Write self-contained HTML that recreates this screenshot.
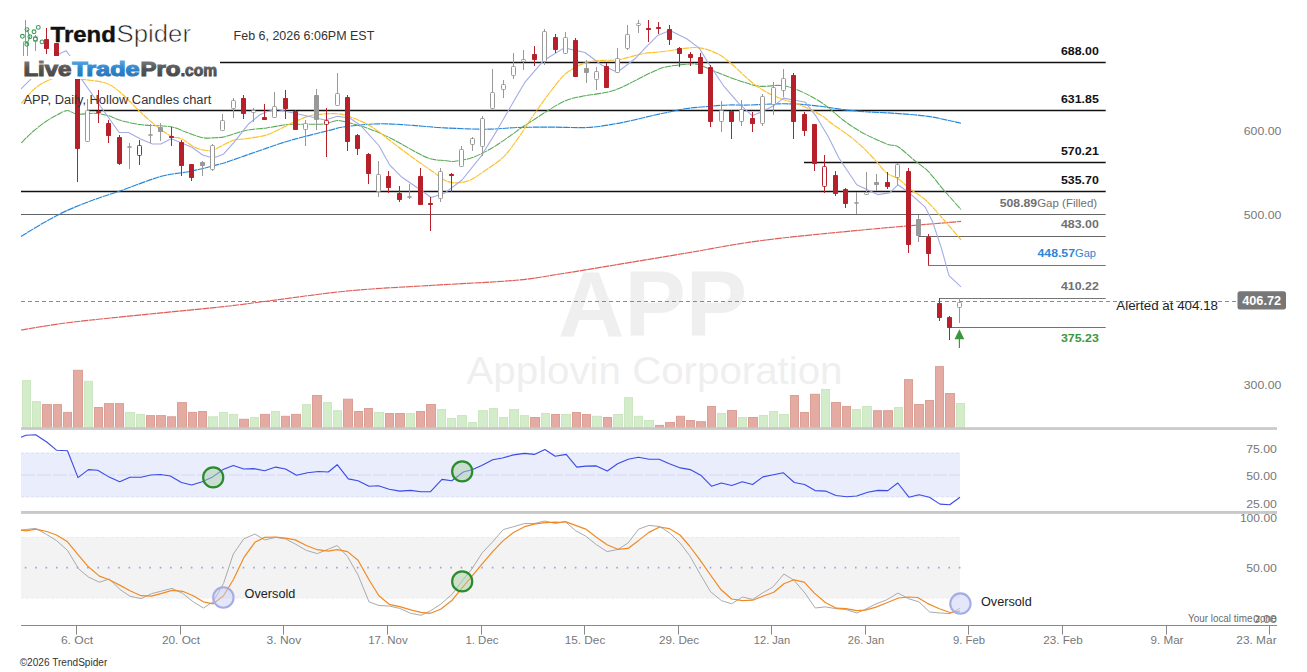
<!DOCTYPE html><html><head><meta charset="utf-8"><style>html,body{margin:0;padding:0;background:#fff;}svg{display:block;font-family:"Liberation Sans",sans-serif;}</style></head><body>
<svg width="1307" height="672" viewBox="0 0 1307 672">
<rect width="1307" height="672" fill="#fff"/>
<text x="652.6" y="336.0" font-size="93.5" fill="#efefef" text-anchor="middle" font-weight="bold" textLength="189.0" lengthAdjust="spacingAndGlyphs" >APP</text>
<text x="654.5" y="383.6" font-size="39.5" fill="#efefef" text-anchor="middle" font-weight="normal" textLength="376.0" lengthAdjust="spacingAndGlyphs" >Applovin Corporation</text>
<rect x="21" y="452.7" width="939" height="44.5" fill="#eaedfb"/>
<line x1="21" y1="475" x2="960" y2="475" stroke="#d6d9f2" stroke-width="1.2" stroke-dasharray="14,2"/>
<line x1="21" y1="453.2" x2="960" y2="453.2" stroke="#dde0f6" stroke-width="1" stroke-dasharray="3,2"/>
<line x1="21" y1="496.8" x2="960" y2="496.8" stroke="#dde0f6" stroke-width="1" stroke-dasharray="3,2"/>
<rect x="21" y="537" width="939" height="61.3" fill="#f3f3f3"/>
<line x1="24.78" y1="567.6" x2="962" y2="567.6" stroke="#9aa3e6" stroke-width="1.6" stroke-dasharray="1.6,8.778"/>
<line x1="21" y1="537.4" x2="960" y2="537.4" stroke="#ebebf4" stroke-width="1" stroke-dasharray="3,2"/>
<line x1="21" y1="597.9" x2="960" y2="597.9" stroke="#ebebf4" stroke-width="1" stroke-dasharray="3,2"/>
<rect x="22.5" y="380.6" width="8" height="46.9" fill="#d3ecc9" stroke="#cbe6c0" stroke-width="1"/>
<rect x="32.5" y="401.6" width="8" height="25.9" fill="#d3ecc9" stroke="#cbe6c0" stroke-width="1"/>
<rect x="42.5" y="404.6" width="9" height="22.9" fill="#e3aba2" stroke="#dc9f95" stroke-width="1"/>
<rect x="53.5" y="404.6" width="8" height="22.9" fill="#e3aba2" stroke="#dc9f95" stroke-width="1"/>
<rect x="63.5" y="412.4" width="8" height="15.1" fill="#e3aba2" stroke="#dc9f95" stroke-width="1"/>
<rect x="73.5" y="370.3" width="9" height="57.2" fill="#e3aba2" stroke="#dc9f95" stroke-width="1"/>
<rect x="84.5" y="381.3" width="8" height="46.2" fill="#d3ecc9" stroke="#cbe6c0" stroke-width="1"/>
<rect x="94.5" y="407.5" width="8" height="20.0" fill="#e3aba2" stroke="#dc9f95" stroke-width="1"/>
<rect x="104.5" y="403.6" width="9" height="23.9" fill="#e3aba2" stroke="#dc9f95" stroke-width="1"/>
<rect x="115.5" y="403.6" width="8" height="23.9" fill="#e3aba2" stroke="#dc9f95" stroke-width="1"/>
<rect x="125.5" y="412.4" width="9" height="15.1" fill="#d3ecc9" stroke="#cbe6c0" stroke-width="1"/>
<rect x="136.5" y="414.4" width="8" height="13.1" fill="#d3ecc9" stroke="#cbe6c0" stroke-width="1"/>
<rect x="146.5" y="415.6" width="8" height="11.9" fill="#e3aba2" stroke="#dc9f95" stroke-width="1"/>
<rect x="156.5" y="415.6" width="9" height="11.9" fill="#e3aba2" stroke="#dc9f95" stroke-width="1"/>
<rect x="167.5" y="416.8" width="8" height="10.7" fill="#e3aba2" stroke="#dc9f95" stroke-width="1"/>
<rect x="177.5" y="402.6" width="9" height="24.9" fill="#e3aba2" stroke="#dc9f95" stroke-width="1"/>
<rect x="188.5" y="412.4" width="8" height="15.1" fill="#e3aba2" stroke="#dc9f95" stroke-width="1"/>
<rect x="198.5" y="411.5" width="8" height="16.0" fill="#e3aba2" stroke="#dc9f95" stroke-width="1"/>
<rect x="208.5" y="416.8" width="9" height="10.7" fill="#d3ecc9" stroke="#cbe6c0" stroke-width="1"/>
<rect x="219.5" y="412.4" width="8" height="15.1" fill="#d3ecc9" stroke="#cbe6c0" stroke-width="1"/>
<rect x="229.5" y="414.4" width="8" height="13.1" fill="#d3ecc9" stroke="#cbe6c0" stroke-width="1"/>
<rect x="239.5" y="419.3" width="9" height="8.2" fill="#e3aba2" stroke="#dc9f95" stroke-width="1"/>
<rect x="250.5" y="417.5" width="8" height="10.0" fill="#d3ecc9" stroke="#cbe6c0" stroke-width="1"/>
<rect x="260.5" y="414.4" width="9" height="13.1" fill="#e3aba2" stroke="#dc9f95" stroke-width="1"/>
<rect x="271.5" y="411.5" width="8" height="16.0" fill="#d3ecc9" stroke="#cbe6c0" stroke-width="1"/>
<rect x="281.5" y="416.3" width="8" height="11.2" fill="#e3aba2" stroke="#dc9f95" stroke-width="1"/>
<rect x="291.5" y="414.4" width="9" height="13.1" fill="#e3aba2" stroke="#dc9f95" stroke-width="1"/>
<rect x="302.5" y="404.6" width="8" height="22.9" fill="#d3ecc9" stroke="#cbe6c0" stroke-width="1"/>
<rect x="312.5" y="395.5" width="9" height="32.0" fill="#e3aba2" stroke="#dc9f95" stroke-width="1"/>
<rect x="323.5" y="402.6" width="8" height="24.9" fill="#d3ecc9" stroke="#cbe6c0" stroke-width="1"/>
<rect x="333.5" y="410.7" width="8" height="16.8" fill="#d3ecc9" stroke="#cbe6c0" stroke-width="1"/>
<rect x="343.5" y="399.2" width="9" height="28.3" fill="#e3aba2" stroke="#dc9f95" stroke-width="1"/>
<rect x="354.5" y="411.5" width="8" height="16.0" fill="#e3aba2" stroke="#dc9f95" stroke-width="1"/>
<rect x="364.5" y="408.5" width="8" height="19.0" fill="#e3aba2" stroke="#dc9f95" stroke-width="1"/>
<rect x="374.5" y="412.5" width="9" height="15.0" fill="#d3ecc9" stroke="#cbe6c0" stroke-width="1"/>
<rect x="385.5" y="413.5" width="8" height="14.0" fill="#e3aba2" stroke="#dc9f95" stroke-width="1"/>
<rect x="395.5" y="413.5" width="9" height="14.0" fill="#e3aba2" stroke="#dc9f95" stroke-width="1"/>
<rect x="406.5" y="413.5" width="8" height="14.0" fill="#d3ecc9" stroke="#cbe6c0" stroke-width="1"/>
<rect x="416.5" y="411.5" width="8" height="16.0" fill="#e3aba2" stroke="#dc9f95" stroke-width="1"/>
<rect x="426.5" y="404.5" width="9" height="23.0" fill="#e3aba2" stroke="#dc9f95" stroke-width="1"/>
<rect x="437.5" y="409.5" width="8" height="18.0" fill="#d3ecc9" stroke="#cbe6c0" stroke-width="1"/>
<rect x="447.5" y="418.5" width="8" height="9.0" fill="#d3ecc9" stroke="#cbe6c0" stroke-width="1"/>
<rect x="457.5" y="415.6" width="9" height="11.9" fill="#d3ecc9" stroke="#cbe6c0" stroke-width="1"/>
<rect x="468.5" y="422.5" width="8" height="5.0" fill="#d3ecc9" stroke="#cbe6c0" stroke-width="1"/>
<rect x="478.5" y="410.7" width="9" height="16.8" fill="#d3ecc9" stroke="#cbe6c0" stroke-width="1"/>
<rect x="489.5" y="408.5" width="8" height="19.0" fill="#d3ecc9" stroke="#cbe6c0" stroke-width="1"/>
<rect x="499.5" y="417.5" width="8" height="10.0" fill="#d3ecc9" stroke="#cbe6c0" stroke-width="1"/>
<rect x="509.5" y="409.5" width="9" height="18.0" fill="#d3ecc9" stroke="#cbe6c0" stroke-width="1"/>
<rect x="520.5" y="415.6" width="8" height="11.9" fill="#d3ecc9" stroke="#cbe6c0" stroke-width="1"/>
<rect x="530.5" y="417.5" width="9" height="10.0" fill="#e3aba2" stroke="#dc9f95" stroke-width="1"/>
<rect x="541.5" y="413.5" width="8" height="14.0" fill="#d3ecc9" stroke="#cbe6c0" stroke-width="1"/>
<rect x="551.5" y="414.5" width="8" height="13.0" fill="#e3aba2" stroke="#dc9f95" stroke-width="1"/>
<rect x="561.5" y="414.5" width="9" height="13.0" fill="#d3ecc9" stroke="#cbe6c0" stroke-width="1"/>
<rect x="572.5" y="412.5" width="8" height="15.0" fill="#e3aba2" stroke="#dc9f95" stroke-width="1"/>
<rect x="582.5" y="414.5" width="8" height="13.0" fill="#e3aba2" stroke="#dc9f95" stroke-width="1"/>
<rect x="592.5" y="416.3" width="9" height="11.2" fill="#d3ecc9" stroke="#cbe6c0" stroke-width="1"/>
<rect x="603.5" y="417.5" width="8" height="10.0" fill="#e3aba2" stroke="#dc9f95" stroke-width="1"/>
<rect x="613.5" y="414.5" width="9" height="13.0" fill="#d3ecc9" stroke="#cbe6c0" stroke-width="1"/>
<rect x="624.5" y="397.7" width="8" height="29.8" fill="#d3ecc9" stroke="#cbe6c0" stroke-width="1"/>
<rect x="634.5" y="416.3" width="8" height="11.2" fill="#d3ecc9" stroke="#cbe6c0" stroke-width="1"/>
<rect x="644.5" y="420.5" width="9" height="7.0" fill="#d3ecc9" stroke="#cbe6c0" stroke-width="1"/>
<rect x="655.5" y="425.4" width="8" height="2.1" fill="#e3aba2" stroke="#dc9f95" stroke-width="1"/>
<rect x="665.5" y="422.5" width="9" height="5.0" fill="#e3aba2" stroke="#dc9f95" stroke-width="1"/>
<rect x="676.5" y="416.3" width="8" height="11.2" fill="#e3aba2" stroke="#dc9f95" stroke-width="1"/>
<rect x="686.5" y="420.5" width="8" height="7.0" fill="#e3aba2" stroke="#dc9f95" stroke-width="1"/>
<rect x="696.5" y="421.7" width="9" height="5.8" fill="#e3aba2" stroke="#dc9f95" stroke-width="1"/>
<rect x="707.5" y="406.5" width="8" height="21.0" fill="#e3aba2" stroke="#dc9f95" stroke-width="1"/>
<rect x="717.5" y="413.5" width="8" height="14.0" fill="#d3ecc9" stroke="#cbe6c0" stroke-width="1"/>
<rect x="727.5" y="410.5" width="9" height="17.0" fill="#e3aba2" stroke="#dc9f95" stroke-width="1"/>
<rect x="738.5" y="417.5" width="8" height="10.0" fill="#d3ecc9" stroke="#cbe6c0" stroke-width="1"/>
<rect x="748.5" y="417.5" width="9" height="10.0" fill="#e3aba2" stroke="#dc9f95" stroke-width="1"/>
<rect x="759.5" y="415.5" width="8" height="12.0" fill="#d3ecc9" stroke="#cbe6c0" stroke-width="1"/>
<rect x="769.5" y="411.5" width="8" height="16.0" fill="#d3ecc9" stroke="#cbe6c0" stroke-width="1"/>
<rect x="779.5" y="414.5" width="9" height="13.0" fill="#d3ecc9" stroke="#cbe6c0" stroke-width="1"/>
<rect x="790.5" y="395.5" width="8" height="32.0" fill="#e3aba2" stroke="#dc9f95" stroke-width="1"/>
<rect x="800.5" y="412.5" width="8" height="15.0" fill="#e3aba2" stroke="#dc9f95" stroke-width="1"/>
<rect x="810.5" y="394.3" width="9" height="33.2" fill="#e3aba2" stroke="#dc9f95" stroke-width="1"/>
<rect x="821.5" y="389.5" width="8" height="38.0" fill="#d3ecc9" stroke="#cbe6c0" stroke-width="1"/>
<rect x="831.5" y="402.5" width="9" height="25.0" fill="#e3aba2" stroke="#dc9f95" stroke-width="1"/>
<rect x="842.5" y="406.5" width="8" height="21.0" fill="#e3aba2" stroke="#dc9f95" stroke-width="1"/>
<rect x="852.5" y="409.5" width="8" height="18.0" fill="#d3ecc9" stroke="#cbe6c0" stroke-width="1"/>
<rect x="862.5" y="406.5" width="9" height="21.0" fill="#d3ecc9" stroke="#cbe6c0" stroke-width="1"/>
<rect x="873.5" y="410.7" width="8" height="16.8" fill="#e3aba2" stroke="#dc9f95" stroke-width="1"/>
<rect x="883.5" y="410.7" width="9" height="16.8" fill="#e3aba2" stroke="#dc9f95" stroke-width="1"/>
<rect x="894.5" y="407.5" width="8" height="20.0" fill="#d3ecc9" stroke="#cbe6c0" stroke-width="1"/>
<rect x="904.5" y="379.6" width="8" height="47.9" fill="#e3aba2" stroke="#dc9f95" stroke-width="1"/>
<rect x="914.5" y="404.5" width="9" height="23.0" fill="#e3aba2" stroke="#dc9f95" stroke-width="1"/>
<rect x="925.5" y="400.5" width="8" height="27.0" fill="#e3aba2" stroke="#dc9f95" stroke-width="1"/>
<rect x="935.5" y="366.6" width="8" height="60.9" fill="#e3aba2" stroke="#dc9f95" stroke-width="1"/>
<rect x="945.5" y="393.5" width="9" height="34.0" fill="#e3aba2" stroke="#dc9f95" stroke-width="1"/>
<rect x="956.5" y="403.5" width="8" height="24.0" fill="#d3ecc9" stroke="#cbe6c0" stroke-width="1"/>
<rect x="21" y="427.2" width="1256" height="2.7" fill="#c9c9c9"/>
<rect x="21" y="511.0" width="1256" height="2.9" fill="#c9c9c9"/>
<line x1="21" y1="625.5" x2="1277" y2="625.5" stroke="#888" stroke-width="1"/>
<line x1="76.5" y1="625.5" x2="76.5" y2="634.6" stroke="#888" stroke-width="1"/>
<text x="60.9" y="644.0" font-size="11" fill="#777" text-anchor="start" font-weight="normal" textLength="32.3" lengthAdjust="spacingAndGlyphs" >6. Oct</text>
<line x1="180.5" y1="625.5" x2="180.5" y2="634.6" stroke="#888" stroke-width="1"/>
<text x="161.9" y="644.0" font-size="11" fill="#777" text-anchor="start" font-weight="normal" textLength="38.2" lengthAdjust="spacingAndGlyphs" >20. Oct</text>
<line x1="283.5" y1="625.5" x2="283.5" y2="634.6" stroke="#888" stroke-width="1"/>
<text x="266.6" y="644.0" font-size="11" fill="#777" text-anchor="start" font-weight="normal" textLength="34.7" lengthAdjust="spacingAndGlyphs" >3. Nov</text>
<line x1="387.5" y1="625.5" x2="387.5" y2="634.6" stroke="#888" stroke-width="1"/>
<text x="368.2" y="644.0" font-size="11" fill="#777" text-anchor="start" font-weight="normal" textLength="39.5" lengthAdjust="spacingAndGlyphs" >17. Nov</text>
<line x1="481.5" y1="625.5" x2="481.5" y2="634.6" stroke="#888" stroke-width="1"/>
<text x="465.4" y="644.0" font-size="11" fill="#777" text-anchor="start" font-weight="normal" textLength="33.1" lengthAdjust="spacingAndGlyphs" >1. Dec</text>
<line x1="584.5" y1="625.5" x2="584.5" y2="634.6" stroke="#888" stroke-width="1"/>
<text x="564.7" y="644.0" font-size="11" fill="#777" text-anchor="start" font-weight="normal" textLength="40.6" lengthAdjust="spacingAndGlyphs" >15. Dec</text>
<line x1="678.5" y1="625.5" x2="678.5" y2="634.6" stroke="#888" stroke-width="1"/>
<text x="658.9" y="644.0" font-size="11" fill="#777" text-anchor="start" font-weight="normal" textLength="40.3" lengthAdjust="spacingAndGlyphs" >29. Dec</text>
<line x1="771.5" y1="625.5" x2="771.5" y2="634.6" stroke="#888" stroke-width="1"/>
<text x="753.8" y="644.0" font-size="11" fill="#777" text-anchor="start" font-weight="normal" textLength="36.4" lengthAdjust="spacingAndGlyphs" >12. Jan</text>
<line x1="865.5" y1="625.5" x2="865.5" y2="634.6" stroke="#888" stroke-width="1"/>
<text x="847.8" y="644.0" font-size="11" fill="#777" text-anchor="start" font-weight="normal" textLength="36.4" lengthAdjust="spacingAndGlyphs" >26. Jan</text>
<line x1="968.5" y1="625.5" x2="968.5" y2="634.6" stroke="#888" stroke-width="1"/>
<text x="953.0" y="644.0" font-size="11" fill="#777" text-anchor="start" font-weight="normal" textLength="32.0" lengthAdjust="spacingAndGlyphs" >9. Feb</text>
<line x1="1062.5" y1="625.5" x2="1062.5" y2="634.6" stroke="#888" stroke-width="1"/>
<text x="1043.2" y="644.0" font-size="11" fill="#777" text-anchor="start" font-weight="normal" textLength="39.6" lengthAdjust="spacingAndGlyphs" >23. Feb</text>
<line x1="1166.5" y1="625.5" x2="1166.5" y2="634.6" stroke="#888" stroke-width="1"/>
<text x="1150.5" y="644.0" font-size="11" fill="#777" text-anchor="start" font-weight="normal" textLength="33.0" lengthAdjust="spacingAndGlyphs" >9. Mar</text>
<line x1="1269.5" y1="625.5" x2="1269.5" y2="634.6" stroke="#888" stroke-width="1"/>
<text x="1236.3" y="644.0" font-size="11" fill="#777" text-anchor="start" font-weight="normal" textLength="40.3" lengthAdjust="spacingAndGlyphs" >23. Mar</text>
<line x1="220.0" y1="62.5" x2="1105.7" y2="62.5" stroke="#111" stroke-width="1.3"/>
<line x1="87.0" y1="110.5" x2="1105.7" y2="110.5" stroke="#111" stroke-width="1.3"/>
<line x1="804.0" y1="162.5" x2="1105.7" y2="162.5" stroke="#111" stroke-width="1.3"/>
<line x1="21.0" y1="191.5" x2="1105.7" y2="191.5" stroke="#111" stroke-width="1.3"/>
<line x1="21.0" y1="214.5" x2="1105.7" y2="214.5" stroke="#666" stroke-width="1"/>
<line x1="918.0" y1="236.5" x2="1105.7" y2="236.5" stroke="#666" stroke-width="1"/>
<line x1="928.0" y1="265.5" x2="1105.7" y2="265.5" stroke="#2d87d6" stroke-width="1.2"/>
<line x1="939.0" y1="298.5" x2="1105.7" y2="298.5" stroke="#777" stroke-width="1"/>
<line x1="950.0" y1="327.5" x2="1105.7" y2="327.5" stroke="#3b973b" stroke-width="1.2"/>
<line x1="21" y1="301.5" x2="1237" y2="301.5" stroke="#8a8a8a" stroke-width="1" stroke-dasharray="4,3"/>
<path d="M21.0,330.0 C29.1,328.8 48.1,325.2 69.6,322.5 C91.1,319.8 123.8,316.7 150.0,314.0 C176.2,311.3 206.9,308.5 226.6,306.3 C246.3,304.1 247.3,303.6 268.0,301.0 C288.6,298.4 323.0,293.3 350.5,290.7 C378.0,288.1 405.4,287.0 433.0,285.3 C460.6,283.6 494.6,282.2 515.8,280.3 C537.0,278.4 543.7,276.5 560.0,274.0 C576.3,271.5 592.4,268.7 613.5,265.2 C634.6,261.7 662.4,257.1 686.9,253.0 C711.4,248.9 731.5,244.5 760.4,240.7 C789.2,236.9 826.6,233.4 860.0,230.2 C893.4,227.0 944.2,222.9 961.0,221.4" fill="none" stroke="#de5d57" stroke-width="1.15" stroke-dasharray="7,0.6"/>
<path d="M21.0,236.5 C24.9,234.1 36.9,226.6 44.6,222.3 C52.3,218.0 58.1,214.5 67.0,210.5 C75.9,206.5 89.4,201.4 98.2,198.2 C107.0,194.9 109.7,194.6 120.0,191.0 C130.3,187.4 148.8,179.9 160.0,176.7 C171.2,173.5 179.8,173.4 187.0,172.0 C194.2,170.6 198.7,169.5 203.0,168.5 C207.3,167.5 209.3,166.8 213.0,165.8 C216.7,164.8 219.5,164.4 225.0,162.7 C230.5,161.0 238.9,157.8 245.8,155.4 C252.8,153.0 259.8,150.5 266.7,148.1 C273.6,145.7 280.6,143.3 287.5,141.2 C294.4,139.2 301.4,137.4 308.3,135.6 C315.2,133.8 323.6,131.8 329.2,130.4 C334.8,129.0 336.8,128.2 341.7,127.3 C346.6,126.4 352.1,125.8 358.3,125.2 C364.6,124.6 371.9,123.8 379.2,123.8 C386.5,123.7 394.7,124.2 402.0,124.6 C409.3,125.0 415.7,125.7 422.9,126.2 C430.1,126.8 434.3,127.4 445.0,127.9 C455.7,128.4 474.8,129.3 487.0,129.2 C499.2,129.1 507.9,127.8 518.3,127.5 C528.7,127.2 538.1,127.1 549.6,127.1 C561.1,127.1 576.6,128.0 587.0,127.5 C597.4,127.0 604.3,125.6 612.0,124.4 C619.7,123.2 625.8,121.8 633.0,120.2 C640.2,118.6 649.5,116.2 655.0,115.0 C660.5,113.8 660.5,113.8 665.8,112.7 C671.1,111.6 679.8,109.5 686.7,108.5 C693.7,107.5 700.6,107.1 707.5,106.5 C714.4,105.9 721.3,105.2 728.3,105.0 C735.2,104.8 740.5,105.2 749.2,105.0 C757.9,104.8 771.7,103.8 780.4,103.8 C789.1,103.7 794.3,103.9 801.2,104.4 C808.2,104.9 815.0,105.6 822.0,106.5 C829.0,107.4 835.8,108.7 843.0,109.6 C850.2,110.5 856.2,111.1 865.0,111.7 C873.8,112.3 885.0,112.6 895.5,113.4 C906.0,114.2 917.3,114.8 928.2,116.4 C939.1,118.0 955.5,122.1 961.0,123.2" fill="none" stroke="#2287dc" stroke-width="1.15" stroke-dasharray="7,0.6"/>
<path d="M21.2,142.9 C23.2,141.0 28.8,135.1 33.0,131.5 C37.2,127.9 42.1,124.0 46.2,121.2 C50.4,118.4 54.5,116.3 58.0,114.5 C61.5,112.7 63.8,110.6 67.1,110.6 C70.3,110.5 73.0,113.8 77.5,114.2 C82.0,114.7 89.0,113.0 94.2,113.3 C99.4,113.6 104.6,114.7 108.8,115.8 C112.9,116.9 114.0,118.5 119.2,120.0 C124.4,121.5 133.1,123.6 140.0,124.6 C146.9,125.6 155.2,125.3 160.8,125.8 C166.4,126.2 169.1,126.2 173.3,127.3 C177.5,128.3 180.9,130.4 185.8,132.1 C190.7,133.8 197.6,136.8 202.5,137.7 C207.4,138.6 211.2,137.9 215.0,137.7 C218.8,137.5 219.9,137.9 225.0,136.7 C230.1,135.5 238.9,131.9 245.8,130.4 C252.8,128.9 259.8,128.9 266.7,127.9 C273.6,126.9 280.6,125.2 287.5,124.6 C294.4,124.0 302.1,124.3 308.3,124.2 C314.6,124.1 320.1,124.4 325.0,123.8 C329.9,123.1 333.3,120.5 337.5,120.4 C341.7,120.3 344.4,121.6 350.0,123.1 C355.6,124.6 363.9,126.8 370.8,129.4 C377.8,132.0 384.8,135.3 391.7,138.8 C398.6,142.2 406.2,146.9 412.5,150.2 C418.8,153.5 423.8,156.8 429.2,158.5 C434.6,160.2 440.7,160.1 445.0,160.6 C449.3,161.1 450.4,161.8 455.0,161.3 C459.6,160.8 466.3,159.7 472.5,157.5 C478.7,155.3 485.8,151.6 492.0,148.0 C498.2,144.4 504.9,139.5 510.0,136.0 C515.1,132.5 518.3,129.8 522.5,127.0 C526.7,124.2 530.8,121.7 535.0,119.0 C539.2,116.3 542.3,113.9 547.5,110.8 C552.7,107.7 560.0,102.9 566.2,100.4 C572.5,97.9 578.1,97.2 585.0,95.8 C591.9,94.4 601.6,93.6 607.9,92.1 C614.1,90.6 617.3,89.2 622.5,86.9 C627.7,84.6 633.8,81.2 639.2,78.5 C644.6,75.8 650.6,72.7 655.0,70.8 C659.4,68.9 660.5,68.0 665.8,66.9 C671.1,65.8 681.1,64.6 686.7,64.2 C692.3,63.9 693.9,63.3 699.2,64.8 C704.5,66.3 712.2,70.5 718.8,73.1 C725.3,75.7 731.9,78.2 738.8,80.4 C745.6,82.6 752.3,85.4 759.6,86.2 C766.9,87.1 775.2,84.6 782.5,85.6 C789.8,86.6 796.3,89.4 803.3,92.5 C810.2,95.6 817.6,99.8 824.2,104.4 C830.8,109.0 837.1,115.5 843.0,120.0 C848.9,124.5 854.5,128.1 859.8,131.2 C865.1,134.4 869.9,136.5 874.6,138.7 C879.3,140.9 884.0,143.2 888.0,144.6 C892.0,146.0 894.3,144.5 898.5,147.0 C902.7,149.5 908.3,155.4 913.3,159.5 C918.2,163.6 923.2,166.4 928.2,171.4 C933.2,176.4 937.6,183.0 943.1,189.3 C948.6,195.7 958.0,206.1 961.0,209.5" fill="none" stroke="#58aa58" stroke-width="1.05" stroke-dasharray="7,0.6"/>
<path d="M21.2,103.3 C23.7,100.7 30.9,91.7 35.8,87.7 C40.7,83.7 45.5,81.4 50.4,79.4 C55.3,77.5 59.4,76.0 65.0,76.0 C70.6,76.0 76.8,78.2 83.8,79.4 C90.7,80.7 100.1,80.9 106.7,83.5 C113.3,86.1 117.8,90.3 123.3,95.0 C128.8,99.7 134.4,106.5 140.0,111.7 C145.6,116.9 151.5,122.2 156.7,126.3 C161.9,130.4 167.1,134.2 171.2,136.2 C175.4,138.3 177.9,136.9 181.7,138.8 C185.5,140.6 190.4,145.2 194.2,147.1 C198.0,149.0 201.5,149.7 204.6,150.2 C207.7,150.7 209.8,151.1 212.9,150.2 C216.0,149.3 219.6,146.7 223.3,145.0 C227.0,143.3 231.2,140.8 235.0,139.8 C238.8,138.8 240.5,139.6 245.8,138.8 C251.1,137.9 261.5,136.4 266.7,135.0 C271.9,133.6 272.8,132.4 277.0,130.4 C281.2,128.4 286.5,125.5 291.7,123.1 C296.9,120.7 303.8,117.7 308.3,116.2 C312.8,114.8 313.9,114.8 318.8,114.4 C323.6,114.0 332.3,113.3 337.5,113.8 C342.7,114.2 344.4,114.8 350.0,116.9 C355.6,119.0 363.9,122.1 370.8,126.2 C377.8,130.4 384.8,136.7 391.7,141.9 C398.6,147.1 405.6,152.5 412.5,157.5 C419.4,162.5 427.9,168.2 433.3,172.0 C438.7,175.8 441.1,178.6 445.0,180.4 C448.9,182.2 452.5,183.0 456.7,182.9 C460.9,182.8 465.3,182.3 470.4,180.0 C475.4,177.7 481.4,173.1 487.0,169.2 C492.6,165.3 498.5,161.9 503.8,156.7 C509.0,151.5 513.1,145.2 518.3,137.9 C523.5,130.6 529.4,121.0 535.0,113.0 C540.6,105.0 546.5,96.6 551.7,90.0 C556.9,83.4 560.7,77.8 566.2,73.3 C571.8,68.8 579.1,65.0 585.0,62.9 C590.9,60.8 596.2,60.9 601.7,60.4 C607.2,59.9 612.8,60.6 618.3,59.8 C623.8,59.0 630.5,56.7 635.0,55.6 C639.5,54.5 639.9,54.0 645.0,53.3 C650.1,52.6 658.8,52.1 665.8,51.2 C672.8,50.4 680.8,48.6 686.7,48.1 C692.6,47.6 695.9,47.1 701.2,48.1 C706.6,49.1 713.5,51.6 718.8,54.4 C724.0,57.2 726.7,59.9 732.5,64.8 C738.3,69.6 747.0,78.6 753.3,83.5 C759.5,88.4 765.1,91.4 770.0,94.0 C774.9,96.6 777.3,97.3 782.5,99.2 C787.7,101.1 794.7,102.6 801.2,105.4 C807.8,108.2 817.2,113.0 822.0,115.8 C826.8,118.6 826.2,119.5 830.0,122.3 C833.8,125.1 839.9,129.0 844.9,132.7 C849.9,136.4 854.8,140.1 859.8,144.6 C864.8,149.1 870.1,154.8 874.6,159.5 C879.1,164.2 882.5,169.7 886.5,172.9 C890.5,176.1 894.5,176.2 898.5,178.9 C902.5,181.6 905.9,185.8 910.4,189.3 C914.9,192.8 919.8,194.8 925.2,199.7 C930.7,204.6 937.1,212.3 943.1,219.0 C949.1,225.7 958.0,236.4 961.0,239.9" fill="none" stroke="#fcc22c" stroke-width="1.15" stroke-dasharray="7,0.6"/>
<polyline points="21.0,88.8 30.6,79.4 42.0,67.0 53.0,56.7 66.0,50.7 70.0,56.0 81.7,79.4 98.3,103.3 119.2,132.5 128.5,132.5 140.0,138.8 152.5,144.0 160.8,144.0 171.2,138.8 181.7,142.9 192.3,147.5 202.7,155.0 213.0,158.0 223.5,154.2 234.0,142.3 248.8,123.7 260.0,114.8 266.7,111.7 277.0,109.2 287.5,111.7 308.3,116.2 325.0,120.0 337.5,116.2 350.0,118.3 360.4,125.2 379.2,146.0 389.6,164.8 402.0,177.3 418.8,188.8 431.2,197.5 445.0,192.9 462.0,180.0 480.8,156.7 497.5,129.6 514.2,100.4 524.6,82.7 543.3,60.8 564.2,47.9 585.0,52.5 601.7,65.0 617.3,72.3 635.0,58.8 645.0,48.1 657.5,35.6 670.0,30.4 686.7,38.8 699.2,48.1 707.5,61.7 724.2,86.7 738.8,103.3 752.3,115.8 761.7,111.7 774.2,105.4 783.5,98.1 795.0,100.2 805.4,102.3 815.8,115.8 828.3,136.7 838.9,158.0 856.8,184.8 877.6,194.6 889.5,192.9 897.9,184.8 910.4,193.8 925.2,207.1 932.7,222.0 941.6,248.8 949.0,275.6 961.0,286.9" fill="none" stroke="#a4abe6" stroke-width="1.1" stroke-linejoin="round"/>
<line x1="25.5" y1="20.0" x2="25.5" y2="60.0" stroke="#999999" stroke-width="1"/>
<rect x="23.5" y="41.5" width="4" height="18" rx="0.8" fill="#fff" stroke="#999999" stroke-width="1"/>
<line x1="35.5" y1="35.0" x2="35.5" y2="51.0" stroke="#999999" stroke-width="1"/>
<rect x="33.5" y="36.5" width="4" height="5" rx="0.8" fill="#fff" stroke="#999999" stroke-width="1"/>
<line x1="46.5" y1="28.0" x2="46.5" y2="54.0" stroke="#b5202a" stroke-width="1"/>
<rect x="44" y="39" width="5" height="10" rx="0.8" fill="#b5202a"/>
<line x1="56.5" y1="43.0" x2="56.5" y2="60.0" stroke="#b5202a" stroke-width="1"/>
<rect x="54" y="43" width="5" height="17" rx="0.8" fill="#b5202a"/>
<line x1="67.5" y1="56.0" x2="67.5" y2="70.0" stroke="#b5202a" stroke-width="1"/>
<rect x="65" y="58" width="5" height="10" rx="0.8" fill="#b5202a"/>
<line x1="77.5" y1="60.0" x2="77.5" y2="182.0" stroke="#b5202a" stroke-width="1"/>
<rect x="75" y="60" width="5" height="89" rx="0.8" fill="#b5202a"/>
<line x1="87.5" y1="99.0" x2="87.5" y2="142.0" stroke="#999999" stroke-width="1"/>
<rect x="85.5" y="110.5" width="4" height="31" rx="0.8" fill="#fff" stroke="#999999" stroke-width="1"/>
<line x1="98.5" y1="90.0" x2="98.5" y2="123.0" stroke="#b5202a" stroke-width="1"/>
<rect x="96" y="111" width="5" height="2" rx="0.8" fill="#b5202a"/>
<line x1="108.5" y1="120.0" x2="108.5" y2="143.0" stroke="#b5202a" stroke-width="1"/>
<rect x="106" y="123" width="5" height="13" rx="0.8" fill="#b5202a"/>
<line x1="119.5" y1="135.0" x2="119.5" y2="165.0" stroke="#b5202a" stroke-width="1"/>
<rect x="117" y="137" width="5" height="27" rx="0.8" fill="#b5202a"/>
<line x1="129.5" y1="143.0" x2="129.5" y2="169.0" stroke="#999999" stroke-width="1"/>
<rect x="127.5" y="146.5" width="4" height="1" rx="0.8" fill="#fff" stroke="#999999" stroke-width="1"/>
<line x1="139.5" y1="140.0" x2="139.5" y2="165.0" stroke="#b5202a" stroke-width="1"/>
<rect x="137.5" y="145.5" width="4" height="10" rx="0.8" fill="#fff" stroke="#b5202a" stroke-width="1"/>
<line x1="150.5" y1="124.0" x2="150.5" y2="143.0" stroke="#999999" stroke-width="1"/>
<rect x="148.5" y="134.5" width="4" height="1" rx="0.8" fill="#fff" stroke="#999999" stroke-width="1"/>
<line x1="160.5" y1="123.0" x2="160.5" y2="141.0" stroke="#999999" stroke-width="1"/>
<rect x="158" y="127" width="5" height="5" rx="0.8" fill="#999999"/>
<line x1="171.5" y1="127.0" x2="171.5" y2="146.0" stroke="#b5202a" stroke-width="1"/>
<rect x="169" y="136" width="5" height="2" rx="0.8" fill="#b5202a"/>
<line x1="181.5" y1="140.0" x2="181.5" y2="176.0" stroke="#b5202a" stroke-width="1"/>
<rect x="179" y="142" width="5" height="24" rx="0.8" fill="#b5202a"/>
<line x1="191.5" y1="164.0" x2="191.5" y2="181.0" stroke="#b5202a" stroke-width="1"/>
<rect x="189" y="164" width="5" height="14" rx="0.8" fill="#b5202a"/>
<line x1="202.5" y1="161.0" x2="202.5" y2="176.0" stroke="#999999" stroke-width="1"/>
<rect x="200" y="162" width="5" height="4" rx="0.8" fill="#999999"/>
<line x1="212.5" y1="144.0" x2="212.5" y2="171.0" stroke="#999999" stroke-width="1"/>
<rect x="210.5" y="145.5" width="4" height="24" rx="0.8" fill="#fff" stroke="#999999" stroke-width="1"/>
<line x1="222.5" y1="114.0" x2="222.5" y2="131.0" stroke="#999999" stroke-width="1"/>
<rect x="220.5" y="120.5" width="4" height="10" rx="0.8" fill="#fff" stroke="#999999" stroke-width="1"/>
<line x1="233.5" y1="98.0" x2="233.5" y2="118.0" stroke="#999999" stroke-width="1"/>
<rect x="231.5" y="100.5" width="4" height="8" rx="0.8" fill="#fff" stroke="#999999" stroke-width="1"/>
<line x1="243.5" y1="95.0" x2="243.5" y2="119.0" stroke="#b5202a" stroke-width="1"/>
<rect x="241" y="98" width="5" height="16" rx="0.8" fill="#b5202a"/>
<line x1="253.5" y1="108.0" x2="253.5" y2="122.0" stroke="#999999" stroke-width="1"/>
<rect x="251.5" y="110.5" width="4" height="2" rx="0.8" fill="#fff" stroke="#999999" stroke-width="1"/>
<line x1="264.5" y1="104.0" x2="264.5" y2="120.0" stroke="#b5202a" stroke-width="1"/>
<rect x="262" y="117" width="5" height="3" rx="0.8" fill="#b5202a"/>
<line x1="274.5" y1="92.0" x2="274.5" y2="118.0" stroke="#999999" stroke-width="1"/>
<rect x="272.5" y="106.5" width="4" height="11" rx="0.8" fill="#fff" stroke="#999999" stroke-width="1"/>
<line x1="285.5" y1="90.0" x2="285.5" y2="119.0" stroke="#b5202a" stroke-width="1"/>
<rect x="283" y="98" width="5" height="11" rx="0.8" fill="#b5202a"/>
<line x1="295.5" y1="110.0" x2="295.5" y2="130.0" stroke="#b5202a" stroke-width="1"/>
<rect x="293" y="111" width="5" height="19" rx="0.8" fill="#b5202a"/>
<line x1="305.5" y1="120.0" x2="305.5" y2="146.0" stroke="#999999" stroke-width="1"/>
<rect x="303.5" y="123.5" width="4" height="6" rx="0.8" fill="#fff" stroke="#999999" stroke-width="1"/>
<line x1="316.5" y1="89.0" x2="316.5" y2="130.0" stroke="#999999" stroke-width="1"/>
<rect x="314" y="95" width="5" height="25" rx="0.8" fill="#999999"/>
<line x1="326.5" y1="108.0" x2="326.5" y2="157.0" stroke="#b5202a" stroke-width="1"/>
<rect x="324.5" y="120.5" width="4" height="4" rx="0.8" fill="#fff" stroke="#b5202a" stroke-width="1"/>
<line x1="337.5" y1="73.0" x2="337.5" y2="106.0" stroke="#999999" stroke-width="1"/>
<rect x="335.5" y="93.5" width="4" height="12" rx="0.8" fill="#fff" stroke="#999999" stroke-width="1"/>
<line x1="347.5" y1="95.0" x2="347.5" y2="151.0" stroke="#b5202a" stroke-width="1"/>
<rect x="345" y="97" width="5" height="45" rx="0.8" fill="#b5202a"/>
<line x1="357.5" y1="134.0" x2="357.5" y2="155.0" stroke="#b5202a" stroke-width="1"/>
<rect x="355" y="135" width="5" height="14" rx="0.8" fill="#b5202a"/>
<line x1="368.5" y1="153.0" x2="368.5" y2="184.0" stroke="#b5202a" stroke-width="1"/>
<rect x="366" y="154" width="5" height="20" rx="0.8" fill="#b5202a"/>
<line x1="378.5" y1="161.0" x2="378.5" y2="197.0" stroke="#999999" stroke-width="1"/>
<rect x="376.5" y="174.5" width="4" height="17" rx="0.8" fill="#fff" stroke="#999999" stroke-width="1"/>
<line x1="388.5" y1="171.0" x2="388.5" y2="193.0" stroke="#b5202a" stroke-width="1"/>
<rect x="386" y="176" width="5" height="12" rx="0.8" fill="#b5202a"/>
<line x1="399.5" y1="186.0" x2="399.5" y2="202.0" stroke="#b5202a" stroke-width="1"/>
<rect x="397" y="193" width="5" height="7" rx="0.8" fill="#b5202a"/>
<line x1="409.5" y1="184.0" x2="409.5" y2="199.0" stroke="#999999" stroke-width="1"/>
<rect x="407.5" y="196.5" width="4" height="1" rx="0.8" fill="#fff" stroke="#999999" stroke-width="1"/>
<line x1="420.5" y1="168.0" x2="420.5" y2="205.0" stroke="#b5202a" stroke-width="1"/>
<rect x="418" y="176" width="5" height="29" rx="0.8" fill="#b5202a"/>
<line x1="430.5" y1="197.0" x2="430.5" y2="231.0" stroke="#b5202a" stroke-width="1"/>
<rect x="428" y="203" width="5" height="2" rx="0.8" fill="#b5202a"/>
<line x1="440.5" y1="168.0" x2="440.5" y2="202.0" stroke="#999999" stroke-width="1"/>
<rect x="438.5" y="171.5" width="4" height="27" rx="0.8" fill="#fff" stroke="#999999" stroke-width="1"/>
<line x1="451.5" y1="173.0" x2="451.5" y2="192.0" stroke="#b5202a" stroke-width="1"/>
<rect x="449" y="174" width="5" height="2" rx="0.8" fill="#b5202a"/>
<line x1="461.5" y1="146.0" x2="461.5" y2="167.0" stroke="#999999" stroke-width="1"/>
<rect x="459.5" y="149.5" width="4" height="17" rx="0.8" fill="#fff" stroke="#999999" stroke-width="1"/>
<line x1="472.5" y1="137.0" x2="472.5" y2="151.0" stroke="#999999" stroke-width="1"/>
<rect x="470.5" y="138.5" width="4" height="6" rx="0.8" fill="#fff" stroke="#999999" stroke-width="1"/>
<line x1="482.5" y1="116.0" x2="482.5" y2="156.0" stroke="#999999" stroke-width="1"/>
<rect x="480.5" y="118.5" width="4" height="28" rx="0.8" fill="#fff" stroke="#999999" stroke-width="1"/>
<line x1="492.5" y1="69.0" x2="492.5" y2="109.0" stroke="#999999" stroke-width="1"/>
<rect x="490.5" y="92.5" width="4" height="16" rx="0.8" fill="#fff" stroke="#999999" stroke-width="1"/>
<line x1="503.5" y1="80.0" x2="503.5" y2="98.0" stroke="#999999" stroke-width="1"/>
<rect x="501.5" y="84.5" width="4" height="5" rx="0.8" fill="#fff" stroke="#999999" stroke-width="1"/>
<line x1="513.5" y1="53.0" x2="513.5" y2="79.0" stroke="#999999" stroke-width="1"/>
<rect x="511.5" y="66.5" width="4" height="9" rx="0.8" fill="#fff" stroke="#999999" stroke-width="1"/>
<line x1="523.5" y1="50.0" x2="523.5" y2="70.0" stroke="#999999" stroke-width="1"/>
<rect x="521.5" y="59.5" width="4" height="2" rx="0.8" fill="#fff" stroke="#999999" stroke-width="1"/>
<line x1="534.5" y1="46.0" x2="534.5" y2="66.0" stroke="#b5202a" stroke-width="1"/>
<rect x="532" y="54" width="5" height="6" rx="0.8" fill="#b5202a"/>
<line x1="544.5" y1="29.0" x2="544.5" y2="65.0" stroke="#999999" stroke-width="1"/>
<rect x="542.5" y="31.5" width="4" height="30" rx="0.8" fill="#fff" stroke="#999999" stroke-width="1"/>
<line x1="555.5" y1="34.0" x2="555.5" y2="53.0" stroke="#b5202a" stroke-width="1"/>
<rect x="553" y="37" width="5" height="13" rx="0.8" fill="#b5202a"/>
<line x1="565.5" y1="32.0" x2="565.5" y2="54.0" stroke="#999999" stroke-width="1"/>
<rect x="563.5" y="37.5" width="4" height="16" rx="0.8" fill="#fff" stroke="#999999" stroke-width="1"/>
<line x1="575.5" y1="38.0" x2="575.5" y2="77.0" stroke="#b5202a" stroke-width="1"/>
<rect x="573" y="40" width="5" height="37" rx="0.8" fill="#b5202a"/>
<line x1="586.5" y1="60.0" x2="586.5" y2="83.0" stroke="#999999" stroke-width="1"/>
<rect x="584" y="68" width="5" height="5" rx="0.8" fill="#999999"/>
<line x1="596.5" y1="67.0" x2="596.5" y2="90.0" stroke="#999999" stroke-width="1"/>
<rect x="594.5" y="71.5" width="4" height="8" rx="0.8" fill="#fff" stroke="#999999" stroke-width="1"/>
<line x1="606.5" y1="63.0" x2="606.5" y2="88.0" stroke="#b5202a" stroke-width="1"/>
<rect x="604" y="66" width="5" height="22" rx="0.8" fill="#b5202a"/>
<line x1="617.5" y1="48.0" x2="617.5" y2="73.0" stroke="#999999" stroke-width="1"/>
<rect x="615.5" y="58.5" width="4" height="14" rx="0.8" fill="#fff" stroke="#999999" stroke-width="1"/>
<line x1="627.5" y1="25.0" x2="627.5" y2="50.0" stroke="#999999" stroke-width="1"/>
<rect x="625.5" y="34.5" width="4" height="14" rx="0.8" fill="#fff" stroke="#999999" stroke-width="1"/>
<line x1="638.5" y1="20.0" x2="638.5" y2="33.0" stroke="#999999" stroke-width="1"/>
<rect x="636.5" y="23.5" width="4" height="2" rx="0.8" fill="#fff" stroke="#999999" stroke-width="1"/>
<line x1="648.5" y1="20.0" x2="648.5" y2="42.0" stroke="#b5202a" stroke-width="1"/>
<rect x="646" y="28" width="5" height="2" rx="0.8" fill="#b5202a"/>
<line x1="658.5" y1="22.0" x2="658.5" y2="34.0" stroke="#b5202a" stroke-width="1"/>
<rect x="656" y="27" width="5" height="2" rx="0.8" fill="#b5202a"/>
<line x1="669.5" y1="25.0" x2="669.5" y2="45.0" stroke="#b5202a" stroke-width="1"/>
<rect x="667" y="29" width="5" height="11" rx="0.8" fill="#b5202a"/>
<line x1="679.5" y1="47.0" x2="679.5" y2="67.0" stroke="#b5202a" stroke-width="1"/>
<rect x="677" y="48" width="5" height="6" rx="0.8" fill="#b5202a"/>
<line x1="690.5" y1="52.0" x2="690.5" y2="66.0" stroke="#b5202a" stroke-width="1"/>
<rect x="688" y="54" width="5" height="4" rx="0.8" fill="#b5202a"/>
<line x1="700.5" y1="53.0" x2="700.5" y2="74.0" stroke="#b5202a" stroke-width="1"/>
<rect x="698" y="57" width="5" height="17" rx="0.8" fill="#b5202a"/>
<line x1="710.5" y1="65.0" x2="710.5" y2="127.0" stroke="#b5202a" stroke-width="1"/>
<rect x="708" y="67" width="5" height="55" rx="0.8" fill="#b5202a"/>
<line x1="721.5" y1="101.0" x2="721.5" y2="132.0" stroke="#999999" stroke-width="1"/>
<rect x="719.5" y="110.5" width="4" height="11" rx="0.8" fill="#fff" stroke="#999999" stroke-width="1"/>
<line x1="731.5" y1="110.0" x2="731.5" y2="139.0" stroke="#b5202a" stroke-width="1"/>
<rect x="729" y="111" width="5" height="11" rx="0.8" fill="#b5202a"/>
<line x1="741.5" y1="100.0" x2="741.5" y2="126.0" stroke="#999999" stroke-width="1"/>
<rect x="739.5" y="109.5" width="4" height="12" rx="0.8" fill="#fff" stroke="#999999" stroke-width="1"/>
<line x1="752.5" y1="112.0" x2="752.5" y2="132.0" stroke="#b5202a" stroke-width="1"/>
<rect x="750" y="118" width="5" height="6" rx="0.8" fill="#b5202a"/>
<line x1="762.5" y1="94.0" x2="762.5" y2="126.0" stroke="#999999" stroke-width="1"/>
<rect x="760.5" y="96.5" width="4" height="27" rx="0.8" fill="#fff" stroke="#999999" stroke-width="1"/>
<line x1="773.5" y1="82.0" x2="773.5" y2="115.0" stroke="#999999" stroke-width="1"/>
<rect x="771.5" y="87.5" width="4" height="17" rx="0.8" fill="#fff" stroke="#999999" stroke-width="1"/>
<line x1="783.5" y1="69.0" x2="783.5" y2="97.0" stroke="#999999" stroke-width="1"/>
<rect x="781.5" y="78.5" width="4" height="12" rx="0.8" fill="#fff" stroke="#999999" stroke-width="1"/>
<line x1="793.5" y1="73.0" x2="793.5" y2="139.0" stroke="#b5202a" stroke-width="1"/>
<rect x="791" y="75" width="5" height="47" rx="0.8" fill="#b5202a"/>
<line x1="804.5" y1="112.0" x2="804.5" y2="136.0" stroke="#b5202a" stroke-width="1"/>
<rect x="802" y="114" width="5" height="17" rx="0.8" fill="#b5202a"/>
<line x1="814.5" y1="124.0" x2="814.5" y2="171.0" stroke="#b5202a" stroke-width="1"/>
<rect x="812" y="124" width="5" height="40" rx="0.8" fill="#b5202a"/>
<line x1="824.5" y1="155.0" x2="824.5" y2="193.0" stroke="#b5202a" stroke-width="1"/>
<rect x="822.5" y="166.5" width="4" height="20" rx="0.8" fill="#fff" stroke="#b5202a" stroke-width="1"/>
<line x1="835.5" y1="171.0" x2="835.5" y2="196.0" stroke="#b5202a" stroke-width="1"/>
<rect x="833" y="175" width="5" height="19" rx="0.8" fill="#b5202a"/>
<line x1="845.5" y1="188.0" x2="845.5" y2="208.0" stroke="#b5202a" stroke-width="1"/>
<rect x="843" y="189" width="5" height="15" rx="0.8" fill="#b5202a"/>
<line x1="856.5" y1="192.0" x2="856.5" y2="214.0" stroke="#999999" stroke-width="1"/>
<rect x="854.5" y="202.5" width="4" height="1" rx="0.8" fill="#fff" stroke="#999999" stroke-width="1"/>
<line x1="866.5" y1="172.0" x2="866.5" y2="195.0" stroke="#999999" stroke-width="1"/>
<rect x="864.5" y="192.5" width="4" height="2" rx="0.8" fill="#fff" stroke="#999999" stroke-width="1"/>
<line x1="876.5" y1="174.0" x2="876.5" y2="191.0" stroke="#999999" stroke-width="1"/>
<rect x="874" y="182" width="5" height="3" rx="0.8" fill="#999999"/>
<line x1="887.5" y1="172.0" x2="887.5" y2="189.0" stroke="#b5202a" stroke-width="1"/>
<rect x="885" y="182" width="5" height="5" rx="0.8" fill="#b5202a"/>
<line x1="897.5" y1="163.0" x2="897.5" y2="185.0" stroke="#999999" stroke-width="1"/>
<rect x="895.5" y="164.5" width="4" height="13" rx="0.8" fill="#fff" stroke="#999999" stroke-width="1"/>
<line x1="908.5" y1="168.0" x2="908.5" y2="253.0" stroke="#b5202a" stroke-width="1"/>
<rect x="906" y="171" width="5" height="74" rx="0.8" fill="#b5202a"/>
<line x1="918.5" y1="215.0" x2="918.5" y2="242.0" stroke="#999999" stroke-width="1"/>
<rect x="916" y="219" width="5" height="17" rx="0.8" fill="#999999"/>
<line x1="928.5" y1="234.0" x2="928.5" y2="265.0" stroke="#b5202a" stroke-width="1"/>
<rect x="926" y="237" width="5" height="17" rx="0.8" fill="#b5202a"/>
<line x1="939.5" y1="298.0" x2="939.5" y2="321.0" stroke="#b5202a" stroke-width="1"/>
<rect x="937" y="303" width="5" height="15" rx="0.8" fill="#b5202a"/>
<line x1="949.5" y1="316.0" x2="949.5" y2="340.0" stroke="#b5202a" stroke-width="1"/>
<rect x="947" y="317" width="5" height="11" rx="0.8" fill="#b5202a"/>
<line x1="959.5" y1="298.0" x2="959.5" y2="323.0" stroke="#999999" stroke-width="1"/>
<rect x="957.5" y="302.5" width="4" height="5" rx="0.8" fill="#fff" stroke="#999999" stroke-width="1"/>
<rect x="21" y="56" width="198" height="23" fill="#fff"/>
<polyline points="27,29.6 29.9,36.7 26.8,44.3" fill="none" stroke="#3f9a5a" stroke-width="1"/>
<circle cx="27.0" cy="29.6" r="1.9" fill="none" stroke="#3f9a5a" stroke-width="1.1"/>
<circle cx="34.0" cy="31.8" r="1.9" fill="none" stroke="#3f9a5a" stroke-width="1.1"/>
<circle cx="38.3" cy="27.4" r="1.9" fill="none" stroke="#3f9a5a" stroke-width="1.1"/>
<circle cx="22.4" cy="36.3" r="1.9" fill="none" stroke="#3f9a5a" stroke-width="1.1"/>
<circle cx="29.9" cy="36.7" r="1.9" fill="none" stroke="#3f9a5a" stroke-width="1.1"/>
<circle cx="35.3" cy="39.0" r="1.9" fill="none" stroke="#3f9a5a" stroke-width="1.1"/>
<circle cx="42.0" cy="41.9" r="1.9" fill="none" stroke="#3f9a5a" stroke-width="1.1"/>
<circle cx="26.8" cy="44.3" r="1.9" fill="none" stroke="#3f9a5a" stroke-width="1.1"/>
<text x="50.6" y="42.3" font-size="22.5" fill="#111" text-anchor="start" font-weight="bold" textLength="65.2" lengthAdjust="spacingAndGlyphs" stroke="#111" stroke-width="0.4">Trend</text>
<text x="116.5" y="42.3" font-size="23" fill="#222" text-anchor="start" font-weight="normal" textLength="74.5" lengthAdjust="spacingAndGlyphs" stroke="#fff" stroke-width="0.55">Spider</text>
<defs><linearGradient id="gg" x1="0" y1="0" x2="0" y2="1"><stop offset="0" stop-color="#8a8a8a"/><stop offset="0.5" stop-color="#555"/><stop offset="1" stop-color="#444"/></linearGradient><linearGradient id="bg" x1="0" y1="0" x2="0" y2="1"><stop offset="0" stop-color="#6ab4ec"/><stop offset="0.5" stop-color="#2f86cc"/><stop offset="1" stop-color="#2a6fb0"/></linearGradient></defs>
<text x="23.4" y="75.6" font-size="20" font-weight="bold" fill="url(#gg)" stroke="url(#gg)" stroke-width="1.1" textLength="48" lengthAdjust="spacingAndGlyphs">Live</text>
<text x="72.2" y="75.6" font-size="20" font-weight="bold" fill="url(#bg)" stroke="url(#bg)" stroke-width="1.1" textLength="67.5" lengthAdjust="spacingAndGlyphs">Trade</text>
<text x="140.4" y="75.6" font-size="20" font-weight="bold" fill="url(#gg)" stroke="url(#gg)" stroke-width="1.1" textLength="40" lengthAdjust="spacingAndGlyphs">Pro</text>
<text x="180.8" y="75.6" font-size="16" font-weight="bold" fill="url(#gg)" stroke="url(#gg)" stroke-width="0.9" textLength="36.2" lengthAdjust="spacingAndGlyphs">.com</text>
<text x="23.4" y="103.8" font-size="12" fill="#333" text-anchor="start" font-weight="normal" textLength="188.0" lengthAdjust="spacingAndGlyphs" >APP, Daily, Hollow Candles chart</text>
<text x="233.6" y="39.8" font-size="12" fill="#333" text-anchor="start" font-weight="normal" textLength="140.7" lengthAdjust="spacingAndGlyphs" >Feb 6, 2026 6:06PM EST</text>
<text x="1061.0" y="54.6" font-size="11.5" font-weight="bold" fill="#111" textLength="37.8" lengthAdjust="spacingAndGlyphs">688.00</text>
<text x="1061.0" y="102.9" font-size="11.5" font-weight="bold" fill="#111" textLength="37.8" lengthAdjust="spacingAndGlyphs">631.85</text>
<text x="1061.0" y="154.8" font-size="11.5" font-weight="bold" fill="#111" textLength="37.8" lengthAdjust="spacingAndGlyphs">570.21</text>
<text x="1061.0" y="183.6" font-size="11.5" font-weight="bold" fill="#111" textLength="37.8" lengthAdjust="spacingAndGlyphs">535.70</text>
<text x="999.7" y="206.5" font-size="11.5" font-weight="bold" fill="#707070" textLength="37.5" lengthAdjust="spacingAndGlyphs">508.89</text>
<text x="1037.2" y="206.5" font-size="11.5" fill="#707070" textLength="60.0" lengthAdjust="spacingAndGlyphs">Gap (Filled)</text>
<text x="1061.0" y="228.0" font-size="11.5" font-weight="bold" fill="#707070" textLength="37.8" lengthAdjust="spacingAndGlyphs">483.00</text>
<text x="1037.5" y="257.0" font-size="11.5" font-weight="bold" fill="#2d87d6" textLength="37.5" lengthAdjust="spacingAndGlyphs">448.57</text>
<text x="1075.0" y="257.0" font-size="11.5" fill="#2d87d6" textLength="21.0" lengthAdjust="spacingAndGlyphs">Gap</text>
<text x="1061.0" y="290.0" font-size="11.5" font-weight="bold" fill="#707070" textLength="37.8" lengthAdjust="spacingAndGlyphs">410.22</text>
<text x="1061.0" y="342.3" font-size="11.5" font-weight="bold" fill="#3b973b" textLength="37.8" lengthAdjust="spacingAndGlyphs">375.23</text>
<polygon points="954.5,339.3 959.4,329.3 964.3,339.3" fill="#3b973b"/>
<line x1="959.4" y1="338" x2="959.4" y2="348" stroke="#3b973b" stroke-width="1.2"/>
<text x="1116.3" y="309.5" font-size="13" fill="#222" text-anchor="start" font-weight="normal" textLength="101.7" lengthAdjust="spacingAndGlyphs" >Alerted at 404.18</text>
<rect x="1237.5" y="291.3" width="48.5" height="18.2" rx="2.5" fill="#777"/>
<text x="1261.7" y="304.8" font-size="12" fill="#fff" text-anchor="middle" font-weight="bold" textLength="39.0" lengthAdjust="spacingAndGlyphs" >406.72</text>
<text x="1281.3" y="135.3" font-size="11" fill="#777" text-anchor="end" font-weight="normal" textLength="37.5" lengthAdjust="spacingAndGlyphs" >600.00</text>
<text x="1281.3" y="219.4" font-size="11" fill="#777" text-anchor="end" font-weight="normal" textLength="37.5" lengthAdjust="spacingAndGlyphs" >500.00</text>
<text x="1281.3" y="389.1" font-size="11" fill="#777" text-anchor="end" font-weight="normal" textLength="37.5" lengthAdjust="spacingAndGlyphs" >300.00</text>
<text x="1276.9" y="452.6" font-size="11" fill="#777" text-anchor="end" font-weight="normal" textLength="30.7" lengthAdjust="spacingAndGlyphs" >75.00</text>
<text x="1276.9" y="479.7" font-size="11" fill="#777" text-anchor="end" font-weight="normal" textLength="30.7" lengthAdjust="spacingAndGlyphs" >50.00</text>
<text x="1276.9" y="507.6" font-size="11" fill="#777" text-anchor="end" font-weight="normal" textLength="30.7" lengthAdjust="spacingAndGlyphs" >25.00</text>
<text x="1276.9" y="522.2" font-size="11" fill="#777" text-anchor="end" font-weight="normal" textLength="37.0" lengthAdjust="spacingAndGlyphs" >100.00</text>
<text x="1276.9" y="572.2" font-size="11" fill="#777" text-anchor="end" font-weight="normal" textLength="30.7" lengthAdjust="spacingAndGlyphs" >50.00</text>
<text x="1276.9" y="622.9" font-size="11" fill="#777" text-anchor="end" font-weight="normal" textLength="24.0" lengthAdjust="spacingAndGlyphs" >0.00</text>
<text x="1276.6" y="622.0" font-size="10" fill="#6a6a6a" text-anchor="end" font-weight="normal" textLength="88.6" lengthAdjust="spacingAndGlyphs" >Your local time zone</text>
<polyline points="21.0,437.2 25.9,435.3 35.7,434.8 46.7,442.0 56.5,450.2 67.5,450.7 78.0,477.6 88.4,469.6 97.7,470.3 108.0,476.4 119.7,481.8 130.0,477.2 141.0,477.2 150.8,475.0 160.6,474.5 170.4,476.0 181.4,482.5 191.7,485.0 202.2,481.8 212.7,476.9 223.0,469.6 233.3,465.4 243.8,469.0 253.6,468.6 264.6,470.8 275.7,467.1 285.5,469.0 296.5,475.2 307.5,472.7 318.5,471.5 328.3,472.0 337.2,464.7 348.3,478.9 358.0,480.8 369.0,486.2 378.4,485.7 389.2,489.2 399.7,491.1 410.7,490.4 421.0,491.8 430.3,491.8 442.0,479.4 451.8,480.8 463.3,472.0 472.0,469.8 481.7,465.4 492.7,459.8 502.5,458.0 513.5,454.9 524.6,453.4 534.3,454.4 544.9,449.5 555.2,456.3 566.2,454.4 576.8,467.1 585.8,466.1 596.3,465.9 607.3,471.0 617.6,463.7 628.2,459.3 638.4,457.3 649.3,459.3 659.1,459.3 669.4,463.7 680.4,467.9 690.2,469.6 700.7,475.2 711.5,486.2 721.3,483.0 731.8,485.5 742.3,481.8 752.6,484.5 762.9,476.9 773.4,474.7 783.2,472.7 794.3,482.5 804.6,484.5 815.1,490.6 825.6,491.1 835.9,495.5 846.9,496.7 856.7,496.0 867.7,492.3 878.0,490.4 887.8,490.6 897.8,483.0 908.9,497.2 919.1,494.8 929.4,497.2 940.0,504.1 949.7,504.8 960.0,497.2" fill="none" stroke="#3b4ae6" stroke-width="1.1" stroke-linejoin="round"/>
<circle cx="213.2" cy="477.4" r="10.05" fill="#a8d0a8" fill-opacity="0.5" stroke="#2b8a2b" stroke-width="2.2"/>
<circle cx="462.2" cy="471.4" r="10.05" fill="#a8d0a8" fill-opacity="0.5" stroke="#2b8a2b" stroke-width="2.2"/>
<polyline points="21.0,530.0 35.7,528.4 46.7,534.5 56.5,540.6 67.5,550.4 78.6,568.8 88.4,577.0 99.4,582.2 109.2,579.0 120.2,589.6 130.0,596.2 141.0,598.6 151.5,593.7 161.8,591.0 172.0,588.4 182.6,593.3 193.2,601.8 203.4,608.0 213.2,601.8 223.5,583.5 233.3,554.0 243.8,538.9 254.9,534.0 264.7,539.9 275.7,537.4 285.5,538.9 295.3,544.0 306.3,550.4 317.3,553.6 328.3,549.2 337.2,545.5 347.5,556.5 358.0,574.9 369.0,601.8 378.9,605.5 389.2,606.0 399.7,608.4 410.7,613.3 421.0,615.3 430.3,610.9 440.6,604.3 451.8,594.5 462.1,581.0 472.0,568.8 482.2,552.8 492.7,541.8 503.2,529.6 513.5,526.7 524.6,523.5 534.3,523.5 544.9,521.0 555.2,523.5 565.4,521.6 575.5,530.7 585.7,536.1 596.4,544.7 607.1,551.6 617.8,549.5 628.0,543.0 638.7,529.1 648.9,525.4 659.6,526.5 670.3,533.4 680.0,543.0 689.6,555.5 700.3,574.4 710.5,591.6 721.4,600.6 731.6,603.8 742.5,597.0 752.7,599.4 762.8,592.8 773.0,586.9 783.9,574.0 794.0,580.3 805.0,593.1 815.2,608.0 825.3,606.9 836.4,608.7 846.0,609.5 856.8,613.0 865.3,609.3 876.0,603.9 886.8,599.8 898.0,593.0 908.7,598.8 918.9,601.8 929.6,612.0 940.3,613.0 950.0,613.6 960.1,608.2" fill="none" stroke="#aaaaaa" stroke-width="1" stroke-linejoin="round"/>
<polyline points="21.0,530.1 25.9,530.8 35.7,529.1 46.7,531.5 56.5,535.0 67.5,541.8 78.6,555.3 88.4,566.8 99.4,576.1 109.2,579.8 120.2,585.4 130.0,590.8 141.0,595.7 151.5,596.2 161.8,593.3 172.0,590.3 182.6,591.3 193.2,595.7 203.4,601.8 213.2,603.8 223.5,595.7 233.3,579.8 243.8,557.7 254.9,542.3 264.7,537.4 275.7,537.0 285.5,538.2 295.3,539.9 306.3,545.5 317.3,549.7 328.3,551.1 337.2,549.7 347.5,551.6 358.0,560.2 369.0,579.8 378.9,595.7 389.2,604.3 399.7,606.7 410.7,609.9 421.0,612.3 430.3,613.3 440.6,609.2 451.8,600.6 462.1,587.9 472.0,576.1 482.2,563.9 492.7,551.6 503.2,540.6 513.5,532.5 524.6,526.7 534.3,524.2 544.9,522.7 555.2,522.2 560.0,522.4 565.4,521.6 575.5,525.4 585.7,529.1 596.4,537.2 607.1,544.7 617.8,549.3 628.0,548.4 638.7,540.4 648.9,532.4 659.6,527.0 669.2,528.6 680.0,535.0 689.5,546.0 700.3,560.3 711.2,576.0 720.6,589.2 731.6,599.0 742.5,600.6 752.7,600.2 762.8,596.2 773.8,592.3 783.9,583.8 794.0,579.8 804.2,582.2 814.4,593.1 825.3,602.5 836.4,608.2 846.0,608.7 856.8,610.6 865.3,610.1 876.0,607.1 886.8,602.8 898.6,598.0 908.2,597.0 917.8,597.5 928.5,603.9 939.3,608.7 950.0,612.5 960.1,611.2" fill="none" stroke="#f08a24" stroke-width="1.2" stroke-linejoin="round"/>
<circle cx="223.4" cy="597.5" r="10.2" fill="#c9cdf3" fill-opacity="0.5" stroke="#a6ace6" stroke-width="2.1"/>
<circle cx="960.4" cy="603.6" r="10.2" fill="#c9cdf3" fill-opacity="0.5" stroke="#a6ace6" stroke-width="2.1"/>
<circle cx="462.2" cy="581.4" r="10.05" fill="#a8d0a8" fill-opacity="0.5" stroke="#2b8a2b" stroke-width="2.2"/>
<text x="244.6" y="598.1" font-size="12" fill="#222" text-anchor="start" font-weight="normal" textLength="50.7" lengthAdjust="spacingAndGlyphs" >Oversold</text>
<text x="981.0" y="605.5" font-size="12" fill="#222" text-anchor="start" font-weight="normal" textLength="50.7" lengthAdjust="spacingAndGlyphs" >Oversold</text>
<text x="19.7" y="666.0" font-size="10" fill="#333" text-anchor="start" font-weight="normal" textLength="87.6" lengthAdjust="spacingAndGlyphs" >©2026 TrendSpider</text>
</svg></body></html>
